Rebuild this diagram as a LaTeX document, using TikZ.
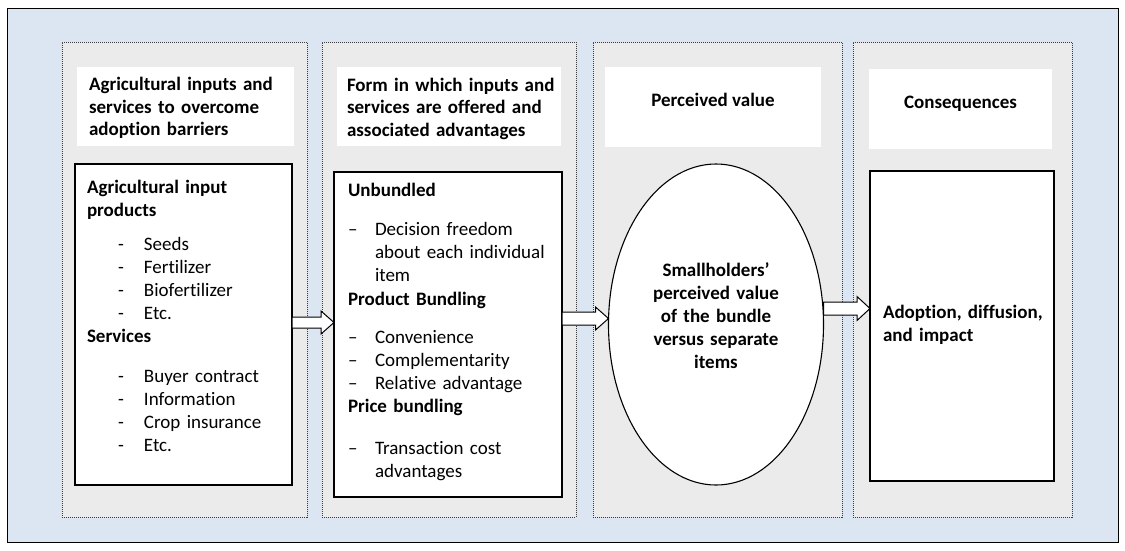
\documentclass[tikz,border=0pt]{standalone}
\usepackage{fontspec}
\setmainfont{Carlito}[Ligatures=CommonOff]
\usetikzlibrary{shapes.geometric,calc,shadows}

\definecolor{framebg}{HTML}{DCE6F2}
\definecolor{panelbg}{HTML}{EBEBEB}
\definecolor{paneledge}{HTML}{3A3A3A}

% block arrow between two node borders at height #3
% #4 body half height, #5 head half height, #6 head length
\newcommand\flowarrow[6]{%
  \coordinate (fa-s) at (#1 |- 0,#3);
  \coordinate (fa-e) at (#2 |- 0,#3);
  \draw[blockarrow] ($(fa-s)+(0,-#4)$) -- ($(fa-e)+(-#6,-#4)$) -- ($(fa-e)+(-#6,-#5)$)
    -- (fa-e) -- ($(fa-e)+(-#6,#5)$) -- ($(fa-e)+(-#6,#4)$) -- ($(fa-s)+(0,#4)$) -- cycle;
}

\tikzset{
  panel/.style={draw=paneledge, fill=panelbg, dash pattern=on 1pt off 1pt,
    line width=1pt, inner sep=0pt, outer sep=0pt, anchor=north west},
  headbox/.style={fill=white, inner sep=0pt, outer sep=0pt, anchor=north west},
  contentbox/.style={draw=black, fill=white, line width=1.1pt, inner sep=0pt,
    outer sep=0pt, anchor=north west,
    drop shadow={shadow xshift=1.2pt, shadow yshift=-1.2pt, fill=black!45, opacity=1}},
  valueoval/.style={ellipse, draw=black, fill=white, line width=1.1pt, inner sep=0pt, outer sep=0pt},
  blockarrow/.style={draw=black, fill=white, line width=1pt, line join=miter},
  headtxt/.style={inner sep=0pt, outer sep=0pt, font=\fontsize{19}{22.5}\selectfont\bfseries},
  bodytxt/.style={inner sep=0pt, outer sep=0pt, anchor=base west, align=left,
    text width=#1, font=\fontsize{19}{23}\selectfont},
}

\newcommand\hy{\hspace*{31pt}\makebox[26pt][l]{-}}
\newcommand\nd{\makebox[27pt][l]{--}}
\newcommand\ndc{\hspace*{27pt}}

\begin{document}
\begin{tikzpicture}[x=1pt, y=-1pt]
  % outer frame
  \path[use as bounding box] (0,0) rectangle (1125,550);
  \draw[fill=framebg, line width=0.8pt] (7,8) rectangle (1118,542);

  % four column panels
  \node[panel, minimum width=245, minimum height=475] (p1) at (62,42) {};
  \node[panel, minimum width=254, minimum height=475] (p2) at (322,42) {};
  \node[panel, minimum width=249, minimum height=475] (p3) at (593,42) {};
  \node[panel, minimum width=219, minimum height=475] (p4) at (853,42) {};

  % column headings
  \node[headbox, minimum width=217, minimum height=79] (h1) at (77,67) {};
  \node[headbox, minimum width=224, minimum height=79] (h2) at (337,67) {};
  \node[headbox, minimum width=216, minimum height=80] (h3) at (605,67) {};
  \node[headbox, minimum width=183, minimum height=80] (h4) at (869,69) {};

  \node[headtxt, anchor=base west, align=left, text width=210] (h1t) at (89,90.5)
    {Agricultural inputs and\\services to overcome\\adoption barriers};
  \node[headtxt, anchor=base west, align=left, text width=215] (h2t) at (347,91)
    {Form in which inputs and\\services are offered and\\associated advantages};
  \node[headtxt, anchor=base] (h3t) at (713,106.5) {Perceived value};
  \node[headtxt, anchor=base] (h4t) at (960.5,108.5) {Consequences};

  % content shapes
  \node[contentbox, minimum width=217, minimum height=321] (b1) at (75,164) {};
  \node[contentbox, minimum width=228, minimum height=325] (b2) at (334,172) {};
  \node[valueoval, minimum width=215, minimum height=321] (ov) at (716,324.5) {};
  \node[contentbox, minimum width=184, minimum height=310] (b4) at (870,171) {};

  % texts
  \node[bodytxt=200] (b1t) at (87,193.5)
    {\textbf{Agricultural input}\\
     \textbf{products}\\[11pt]
     \hy Seeds\\
     \hy Fertilizer\\
     \hy Biofertilizer\\
     \hy Etc.\\
     \textbf{Services}\\[17pt]
     \hy Buyer contract\\
     \hy Information\\
     \hy Crop insurance\\
     \hy Etc.};

  \node[bodytxt=210] (b2t) at (348,196.5)
    {\textbf{Unbundled}\\[16pt]
     \nd Decision freedom\\
     \ndc about each individual\\
     \ndc item\\[1pt]
     \textbf{Product Bundling}\\[15pt]
     \nd Convenience\\
     \nd Complementarity\\
     \nd Relative advantage\\
     \textbf{Price bundling}\\[19pt]
     \nd Transaction cost\\
     \ndc advantages};

  \node[bodytxt=190, align=center, anchor=base, font=\fontsize{19}{23}\selectfont\bfseries]
    (ovt) at (716,276.5)
    {Smallholders’\\perceived value\\of the bundle\\versus separate\\items};

  \node[bodytxt=170, font=\fontsize{19}{23}\selectfont\bfseries] (b4t) at (883,318.5)
    {Adoption, diffusion,\\and impact};

  % connectors
  \flowarrow{b1.east}{b2.west}{322.5}{5.5}{11.5}{13}
  \flowarrow{b2.east}{ov.west}{318.5}{6.5}{11.5}{13}
  \flowarrow{ov.east}{b4.west}{308.5}{6.5}{12}{13}
\end{tikzpicture}
\end{document}
